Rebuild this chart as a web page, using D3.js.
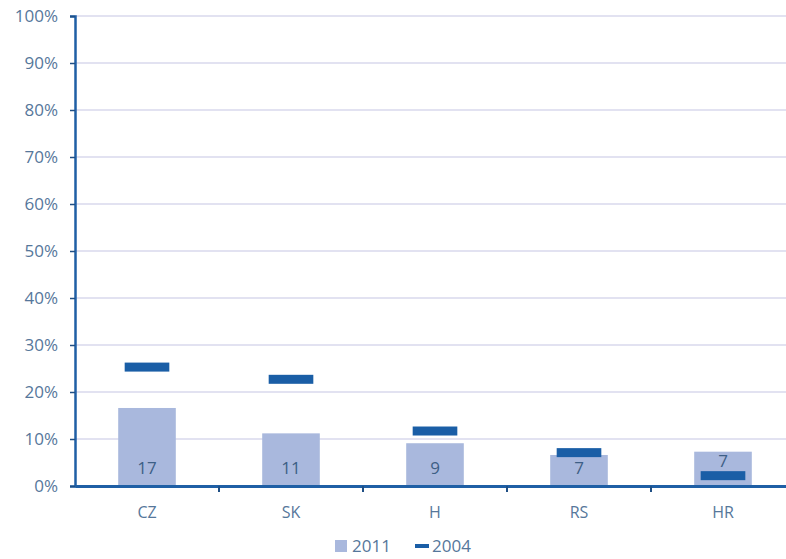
<!DOCTYPE html>
<html>
<head>
<meta charset="utf-8">
<script src="https://cdn.jsdelivr.net/npm/d3@7"></script>
<style>
  body { margin: 0; background: #fff; }
  svg { font-family: 'Open Sans', sans-serif; }
</style>
</head>
<body>
<div id="chart"></div>
<script>
// Data
const countries = ['CZ', 'SK', 'H', 'RS', 'HR'];
const values2011 = [16.6, 11.2, 9.1, 6.6, 7.3];
const labels2011 = ['17', '11', '9', '7', '7'];
const values2004 = [25.3, 22.7, 11.7, 7.1, 2.2];
const yTicks = [0, 10, 20, 30, 40, 50, 60, 70, 80, 90, 100];

const width = 786;
const height = 559;
const margin = { top: 16, right: -9, bottom: 73, left: 75 };

const svg = d3.select('#chart')
  .append('svg')
  .attr('width', width)
  .attr('height', height);

const xScale = d3.scaleBand()
  .domain(countries)
  .range([margin.left, width - margin.right]);

const yScale = d3.scaleLinear()
  .domain([0, 100])
  .range([height - margin.bottom, margin.top]);

const axisColor = '#1f5fa5';
const barColor = '#a9b8dd';
const markColor = '#1a5ea6';
const textColor = '#56779b';

// Gridlines
svg.append('g')
  .selectAll('line')
  .data(yTicks.slice(1))
  .enter()
  .append('line')
  .attr('x1', margin.left)
  .attr('x2', width)
  .attr('y1', (d) => yScale(d))
  .attr('y2', (d) => yScale(d))
  .attr('stroke', '#d9d9ec')
  .attr('stroke-width', 1.5);

// Bars for 2011
const barW = xScale.bandwidth() * 0.4;
svg.append('g')
  .selectAll('rect')
  .data(countries)
  .enter()
  .append('rect')
  .attr('x', (d) => xScale(d) + xScale.bandwidth() / 2 - barW / 2)
  .attr('width', barW)
  .attr('y', (d, i) => yScale(values2011[i]))
  .attr('height', (d, i) => yScale(0) - yScale(values2011[i]))
  .attr('fill', barColor);

// Value labels inside bars (lifted above the 2004 marker when it sits low)
const labelBase = yScale(0) - 12;
svg.append('g')
  .selectAll('text')
  .data(countries)
  .enter()
  .append('text')
  .attr('x', (d) => xScale(d) + xScale.bandwidth() / 2)
  .attr('y', (d, i) => {
    const markTop = yScale(values2004[i]) - 4.5;
    return markTop > labelBase - 14 ? markTop - 4 : labelBase;
  })
  .attr('text-anchor', 'middle')
  .attr('font-size', 17)
  .attr('fill', '#3d5f86')
  .text((d, i) => labels2011[i]);

// 2004 markers
const markW = xScale.bandwidth() * 0.31;
svg.append('g')
  .selectAll('rect')
  .data(countries)
  .enter()
  .append('rect')
  .attr('x', (d) => xScale(d) + xScale.bandwidth() / 2 - markW / 2)
  .attr('width', markW)
  .attr('y', (d, i) => yScale(values2004[i]) - 4.5)
  .attr('height', 9)
  .attr('fill', markColor);

// Y axis
const yAxis = svg.append('g')
  .attr('transform', `translate(${margin.left}, 0)`)
  .call(d3.axisLeft(yScale).tickValues(yTicks).tickFormat((d) => d + '%').tickSize(5));
yAxis.select('.domain').attr('stroke', axisColor).attr('stroke-width', 2.5);
yAxis.selectAll('.tick line').attr('stroke', '#1f4f85').attr('stroke-width', 1.5);
yAxis.selectAll('.tick text')
  .attr('x', -17)
  .attr('font-size', 17)
  .attr('font-family', "'Open Sans', sans-serif")
  .attr('fill', textColor);

// X axis
const xAxis = svg.append('g')
  .attr('transform', `translate(0, ${yScale(0)})`)
  .call(d3.axisBottom(xScale).tickSize(0).tickPadding(21));
xAxis.select('.domain').attr('stroke', axisColor).attr('stroke-width', 3);
xAxis.selectAll('.tick text')
  .attr('font-size', 16)
  .attr('font-family', "'Open Sans', sans-serif")
  .attr('fill', textColor);

// Category boundary ticks
svg.append('g')
  .selectAll('line')
  .data(countries.slice(1))
  .enter()
  .append('line')
  .attr('x1', (d) => xScale(d))
  .attr('x2', (d) => xScale(d))
  .attr('y1', yScale(0))
  .attr('y2', yScale(0) + 6)
  .attr('stroke', '#1f4f85')
  .attr('stroke-width', 2);

// Legend
const legend = svg.append('g')
  .attr('transform', `translate(335, 546)`);

legend.append('rect')
  .attr('x', 0)
  .attr('y', -6)
  .attr('width', 12)
  .attr('height', 12)
  .attr('fill', barColor);

legend.append('text')
  .attr('x', 17)
  .attr('y', 6)
  .attr('font-size', 17)
  .attr('fill', textColor)
  .text('2011');

legend.append('rect')
  .attr('x', 80)
  .attr('y', -2)
  .attr('width', 14)
  .attr('height', 4)
  .attr('fill', markColor);

legend.append('text')
  .attr('x', 97)
  .attr('y', 6)
  .attr('font-size', 17)
  .attr('fill', textColor)
  .text('2004');
</script>
</body>
</html>
